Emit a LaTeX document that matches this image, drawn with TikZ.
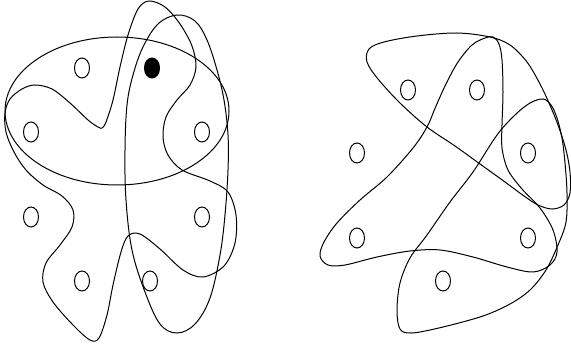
\documentclass[tikz,border=0pt]{standalone}
\usetikzlibrary{shapes.geometric}
\begin{document}
\begin{tikzpicture}[x=1pt,y=-1pt,
  edge/.style={line width=1pt, black},
  vtx/.style={draw, ellipse, line width=1pt, minimum width=15pt, minimum height=20pt, inner sep=0pt},
  bvtx/.style={vtx, fill=black}]
\useasboundingbox (0,0) rectangle (571,350);
% ---------- left hypergraph ----------
\node[vtx] (a1) at (82,68) {};
\node[bvtx] (a2) at (152,68) {};
\node[vtx] (a3) at (31,132) {};
\node[vtx] (a4) at (202,132) {};
\node[vtx] (a5) at (31,217) {};
\node[vtx] (a6) at (202,217) {};
\node[vtx] (a7) at (82,281) {};
\node[vtx] (a8) at (150,281) {};
% big ellipse
\draw[edge] (117,111) ellipse [x radius=112, y radius=74];
% tall edge
\draw[edge] plot[smooth cycle, tension=0.6] coordinates {
 (177,15) (195,21) (207,40) (217,70) (224,100) (228,135) (228,170) (225,215)
 (220,255) (210,298) (195,324) (177,333) (160,324) (145,292) (132,250) (126,200)
 (125,150) (127,105) (133,75) (143,47) (158,24)};
% V-shaped edge
\draw[edge] plot[smooth cycle, tension=0.55] coordinates {
 (149,1) (165,7) (180,24) (192,46) (196,67) (190,85) (177,100) (166,117)
 (163,137) (168,155) (182,170) (210,181) (228,192) (236,215) (235,243) (224,266)
 (203,277) (183,270) (160,249) (140,234) (128,236) (121,252) (113,285) (107,315)
 (99,338) (90,340) (73,325) (53,302) (43,282) (46,263) (60,245) (72,227)
 (73,210) (62,196) (43,185) (26,170) (14,152) (6,132) (5,113) (10,99)
 (22,89) (35,85) (52,89) (70,103) (88,120) (98,127) (102,128) (106,122)
 (113,100) (120,67) (128,35) (138,9)};
% ---------- right hypergraph ----------
\node[vtx] (b1) at (408,90) {};
\node[vtx] (b2) at (477,90) {};
\node[vtx] (b3) at (357,153) {};
\node[vtx] (b4) at (528,153) {};
\node[vtx] (b5) at (357,238) {};
\node[vtx] (b6) at (528,238) {};
\node[vtx] (b7) at (443,281) {};
% upper triangular edge
\draw[edge] plot[smooth cycle, tension=0.55] coordinates {
 (490,37) (510,45) (527,62) (540,84) (549,103) (558,125) (566,150) (570,172)
 (570,193) (564,205) (552,209) (538,205) (524,196) (505,182) (480,164) (455,146)
 (427,127) (400,103) (378,79) (367,62) (369,49) (384,42) (417,36) (457,33)};
% left-lower lobe edge with tip at top
\draw[edge] plot[smooth cycle, tension=0.55] coordinates {
 (493,37) (499,44) (502,60) (503,92) (502,125) (502,148) (508,170) (522,189)
 (540,208) (553,230) (557,252) (550,265) (533,272) (507,267) (473,257) (440,250)
 (410,251) (377,257) (345,265) (328,265) (320,256) (324,242) (337,223) (360,200)
 (387,177) (413,148) (427,127) (436,106) (446,84) (458,62) (472,45) (485,38)};
% bottom lobe edge
\draw[edge] plot[smooth cycle, tension=0.55] coordinates {
 (543,99) (551,105) (557,118) (562,138) (565,163) (567,193) (566,222) (558,245)
 (546,270) (530,290) (510,304) (483,316) (443,327) (412,333) (400,329) (397,310)
 (400,283) (410,258) (427,235) (450,202) (473,172) (497,135) (515,115) (530,103)};
\end{tikzpicture}
\end{document}
